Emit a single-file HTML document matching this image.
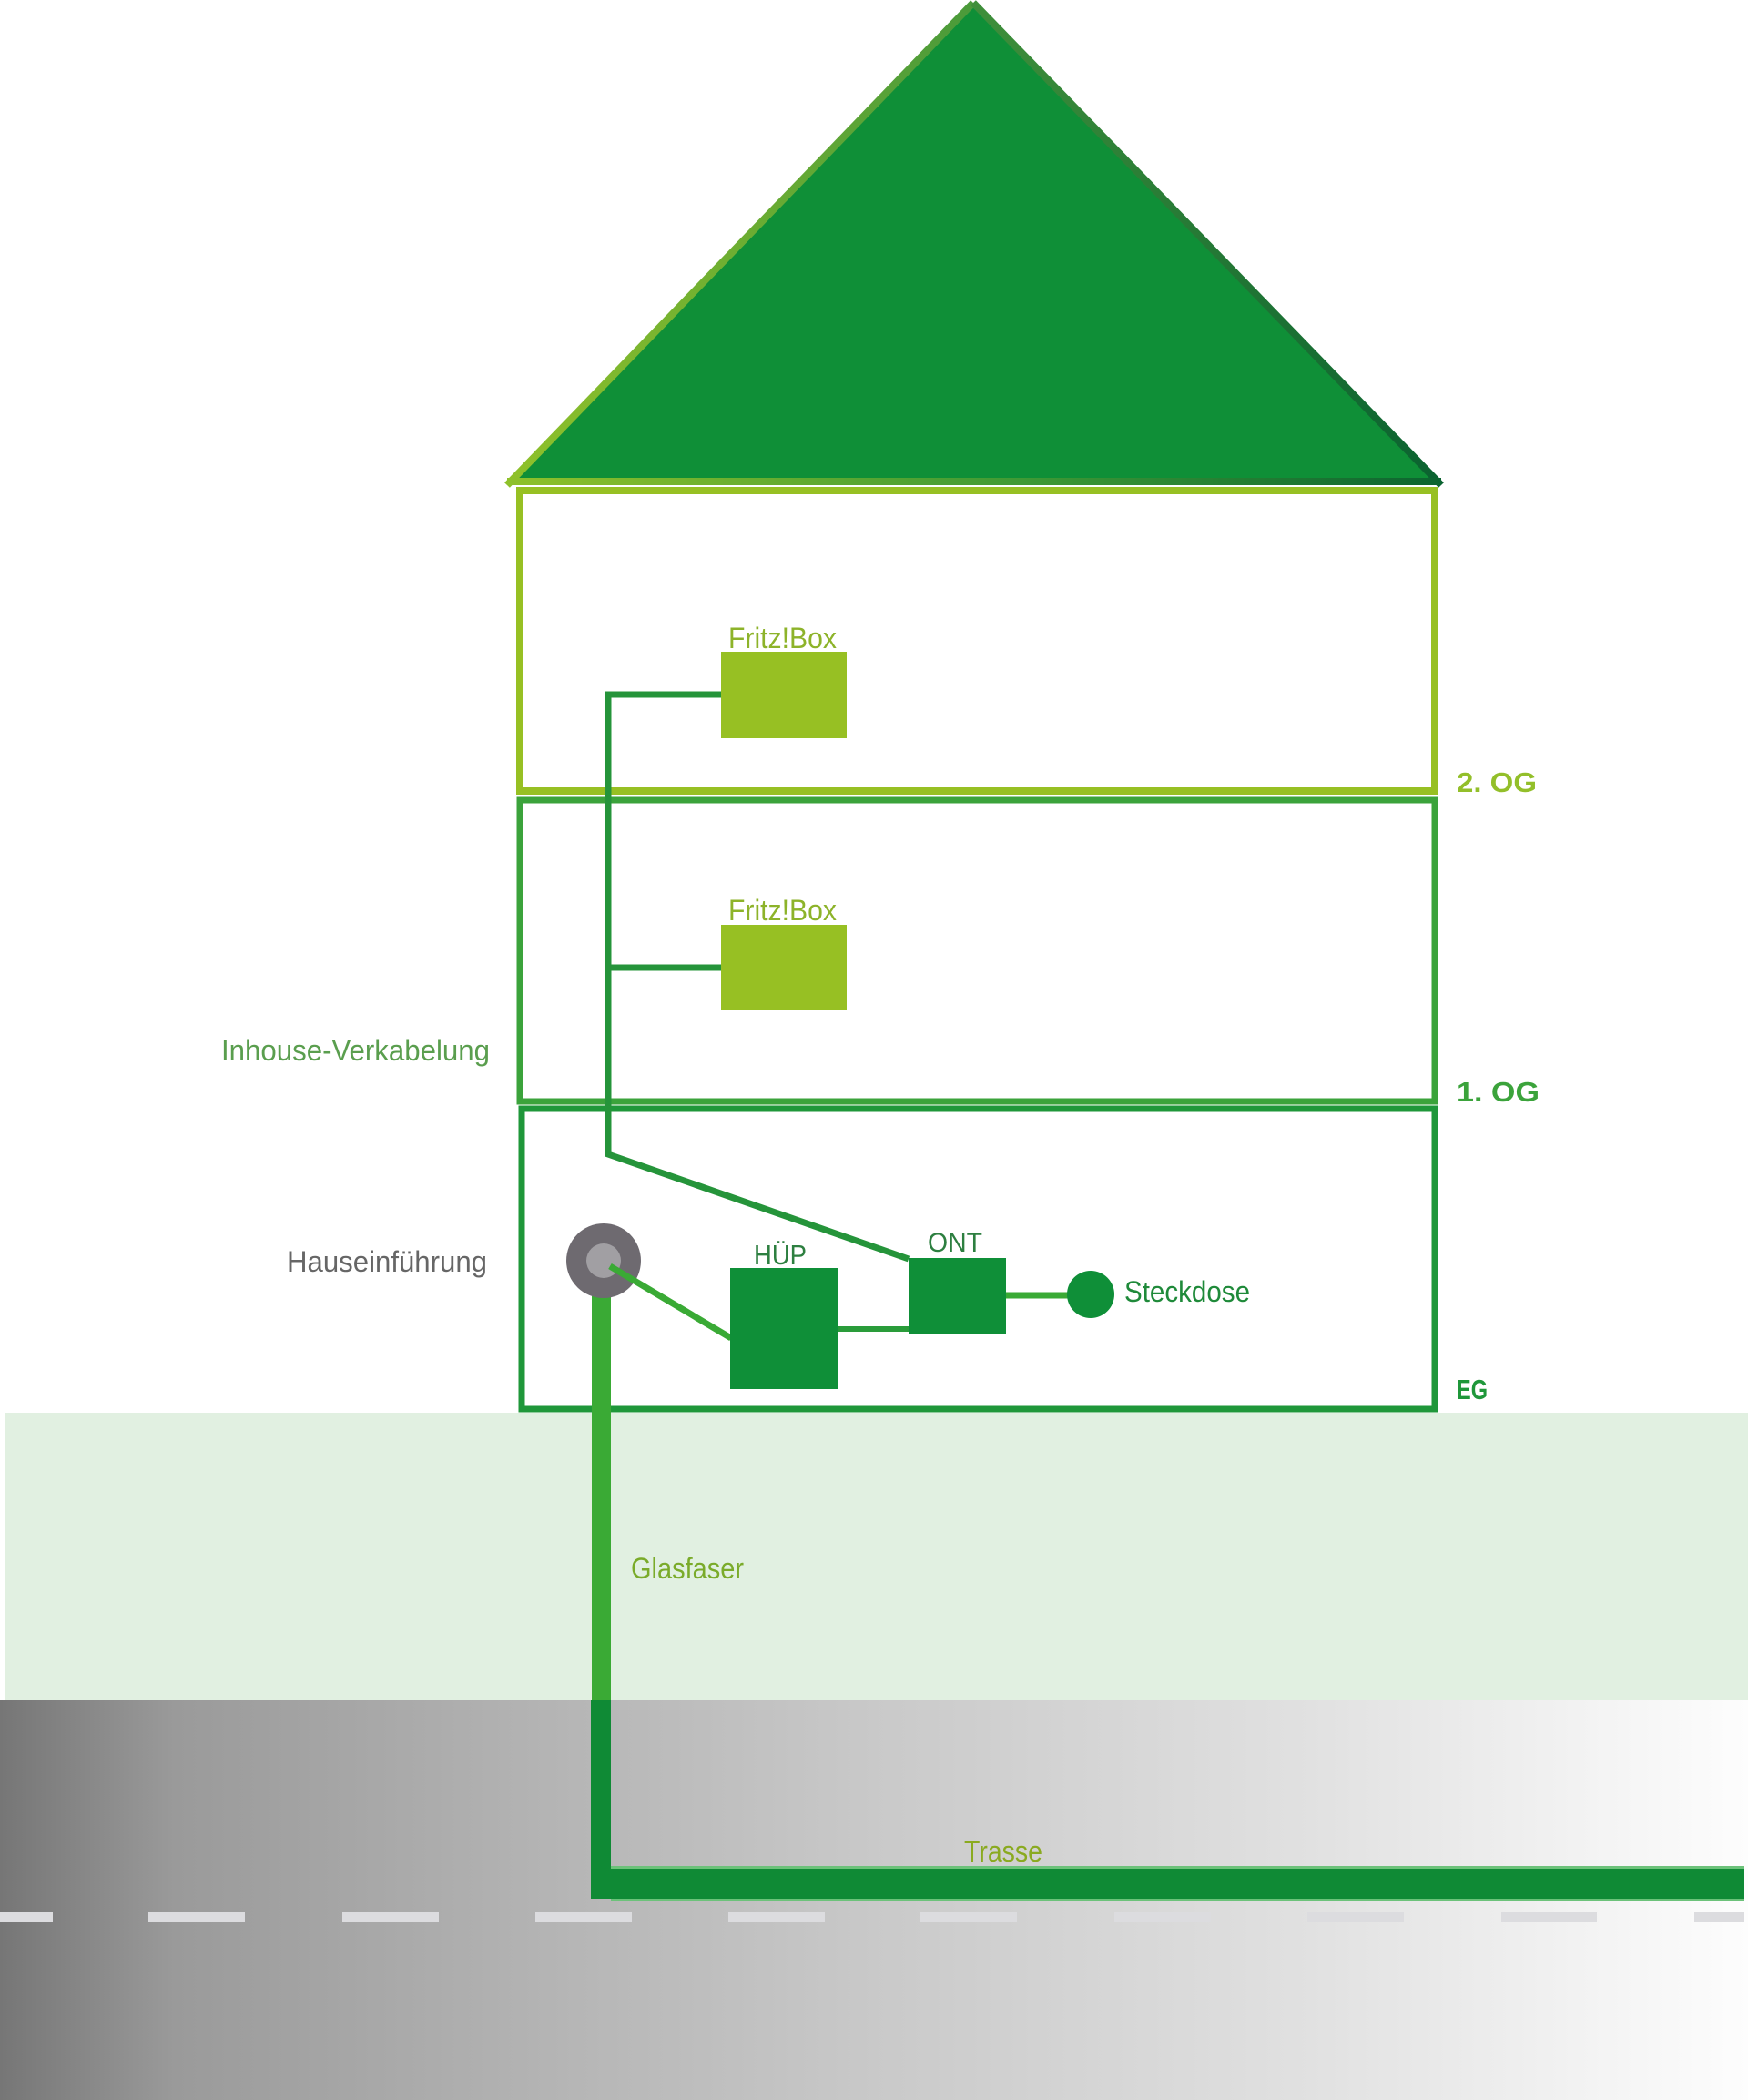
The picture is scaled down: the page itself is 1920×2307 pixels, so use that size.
<!DOCTYPE html>
<html>
<head>
<meta charset="utf-8">
<style>
html,body{margin:0;padding:0;background:#fff;}
svg{display:block;}
text{font-family:"Liberation Sans",Arial,sans-serif;}
</style>
</head>
<body>
<svg xmlns="http://www.w3.org/2000/svg" width="1920" height="2307" viewBox="0 0 1920 2307">
<defs>
  <linearGradient id="road" x1="0" y1="0" x2="1" y2="0">
    <stop offset="0" stop-color="#767676"/>
    <stop offset="0.1" stop-color="#9a9a9a"/>
    <stop offset="0.33" stop-color="#b6b6b6"/>
    <stop offset="0.5" stop-color="#c9c9c9"/>
    <stop offset="0.75" stop-color="#e1e1e1"/>
    <stop offset="1" stop-color="#fdfdfd"/>
  </linearGradient>
  <linearGradient id="roofbase" x1="557" y1="0" x2="1583" y2="0" gradientUnits="userSpaceOnUse">
    <stop offset="0" stop-color="#8fc12a"/>
    <stop offset="0.55" stop-color="#3f9a35"/>
    <stop offset="1" stop-color="#0b6430"/>
  </linearGradient>
  <linearGradient id="roofleft" x1="557" y1="533" x2="1069" y2="2" gradientUnits="userSpaceOnUse">
    <stop offset="0" stop-color="#8fc12a"/>
    <stop offset="1" stop-color="#4a9a3a"/>
  </linearGradient>
  <linearGradient id="roofright" x1="1069" y1="2" x2="1583" y2="533" gradientUnits="userSpaceOnUse">
    <stop offset="0" stop-color="#3f8f3a"/>
    <stop offset="1" stop-color="#0a6230"/>
  </linearGradient>
</defs>

<rect x="0" y="0" width="1920" height="2307" fill="#ffffff"/>

<!-- ground band -->
<rect x="6" y="1552" width="1914" height="316" fill="#e1f0e1"/>
<!-- road -->
<rect x="0" y="1868" width="1920" height="439" fill="url(#road)"/>
<!-- dashes -->
<g fill="#dcdcdf">
  <rect x="0" y="2100" width="58" height="11"/>
  <rect x="163" y="2100" width="106" height="11"/>
  <rect x="376" y="2100" width="106" height="11"/>
  <rect x="588" y="2100" width="106" height="11"/>
  <rect x="800" y="2100" width="106" height="11"/>
  <rect x="1011" y="2100" width="106" height="11"/>
  <rect x="1224" y="2100" width="106" height="11"/>
  <rect x="1436" y="2100" width="106" height="11"/>
  <rect x="1649" y="2100" width="105" height="11"/>
  <rect x="1861" y="2100" width="55" height="11"/>
</g>

<!-- roof -->
<polygon points="1069,4 557,533 1583,533" fill="#0f8f37"/>
<line x1="557" y1="533" x2="1069" y2="3" stroke="url(#roofleft)" stroke-width="8"/>
<line x1="1069" y1="3" x2="1583" y2="533" stroke="url(#roofright)" stroke-width="8"/>
<line x1="557" y1="529" x2="1583" y2="529" stroke="url(#roofbase)" stroke-width="8"/>

<!-- floors -->
<rect x="571" y="539" width="1005" height="330" fill="none" stroke="#97c023" stroke-width="8"/>
<rect x="571" y="879" width="1005" height="331" fill="none" stroke="#3ba33b" stroke-width="7"/>
<rect x="573" y="1218" width="1003" height="330" fill="none" stroke="#1f973a" stroke-width="7"/>

<!-- inhouse cabling -->
<polyline points="792,763 668,763 668,1268 998,1383" fill="none" stroke="#25943a" stroke-width="7" stroke-linejoin="miter"/>
<line x1="668" y1="1063" x2="792" y2="1063" stroke="#25943a" stroke-width="7"/>

<!-- Fritz boxes -->
<rect x="792" y="716" width="138" height="95" fill="#97c023"/>
<rect x="792" y="1016" width="138" height="94" fill="#97c023"/>

<!-- Trasse horizontal -->
<rect x="671" y="2050" width="1245" height="38" fill="#6cc27a"/>
<rect x="649" y="2053" width="1267" height="33" fill="#0f8a35"/>
<!-- Glasfaser vertical -->
<rect x="650" y="1420" width="21" height="448" fill="#3aaa35"/>
<rect x="649" y="1868" width="22" height="218" fill="#0f8a35"/>

<!-- Hauseinführung -->
<circle cx="663" cy="1385" r="41" fill="#6e6a70"/>
<circle cx="663" cy="1385" r="19" fill="#a19fa3"/>
<line x1="670" y1="1391" x2="803" y2="1470" stroke="#3aaa35" stroke-width="7"/>

<!-- HÜP / ONT / Steckdose -->
<line x1="918" y1="1460" x2="1000" y2="1460" stroke="#2a9c3a" stroke-width="6"/>
<line x1="1102" y1="1423" x2="1198" y2="1423" stroke="#3aaa35" stroke-width="7"/>
<rect x="802" y="1393" width="119" height="133" fill="#0f8f38"/>
<rect x="998" y="1382" width="107" height="84" fill="#0f8f38"/>
<circle cx="1198" cy="1422" r="26" fill="#0f8f38"/>

<!-- labels -->
<text x="800" y="712" font-size="32" fill="#8db32a" textLength="119" lengthAdjust="spacingAndGlyphs">Fritz!Box</text>
<text x="800" y="1011" font-size="32" fill="#8db32a" textLength="119" lengthAdjust="spacingAndGlyphs">Fritz!Box</text>
<text x="1600" y="870" font-size="31" font-weight="bold" fill="#93bf2a" textLength="88" lengthAdjust="spacingAndGlyphs">2.  OG</text>
<text x="1600" y="1210" font-size="31" font-weight="bold" fill="#3ba33b" textLength="91" lengthAdjust="spacingAndGlyphs">1.  OG</text>
<text x="1600" y="1537" font-size="31" font-weight="bold" fill="#1f973a" textLength="34" lengthAdjust="spacingAndGlyphs">EG</text>
<text x="243" y="1165" font-size="32" fill="#5a9e4e" textLength="295" lengthAdjust="spacingAndGlyphs">Inhouse-Verkabelung</text>
<text x="315" y="1397" font-size="32" fill="#666666" textLength="220" lengthAdjust="spacingAndGlyphs">Hauseinführung</text>
<text x="828" y="1389" font-size="31" fill="#2d7f40" textLength="58" lengthAdjust="spacingAndGlyphs">HÜP</text>
<text x="1019" y="1375" font-size="30" fill="#2d7f40" textLength="60" lengthAdjust="spacingAndGlyphs">ONT</text>
<text x="1235" y="1430" font-size="32" fill="#1f8a3a" textLength="138" lengthAdjust="spacingAndGlyphs">Steckdose</text>
<text x="693" y="1734" font-size="32" fill="#7aab2a" textLength="124" lengthAdjust="spacingAndGlyphs">Glasfaser</text>
<text x="1059" y="2045" font-size="32" fill="#8aaa20" textLength="86" lengthAdjust="spacingAndGlyphs">Trasse</text>
</svg>
</body>
</html>
